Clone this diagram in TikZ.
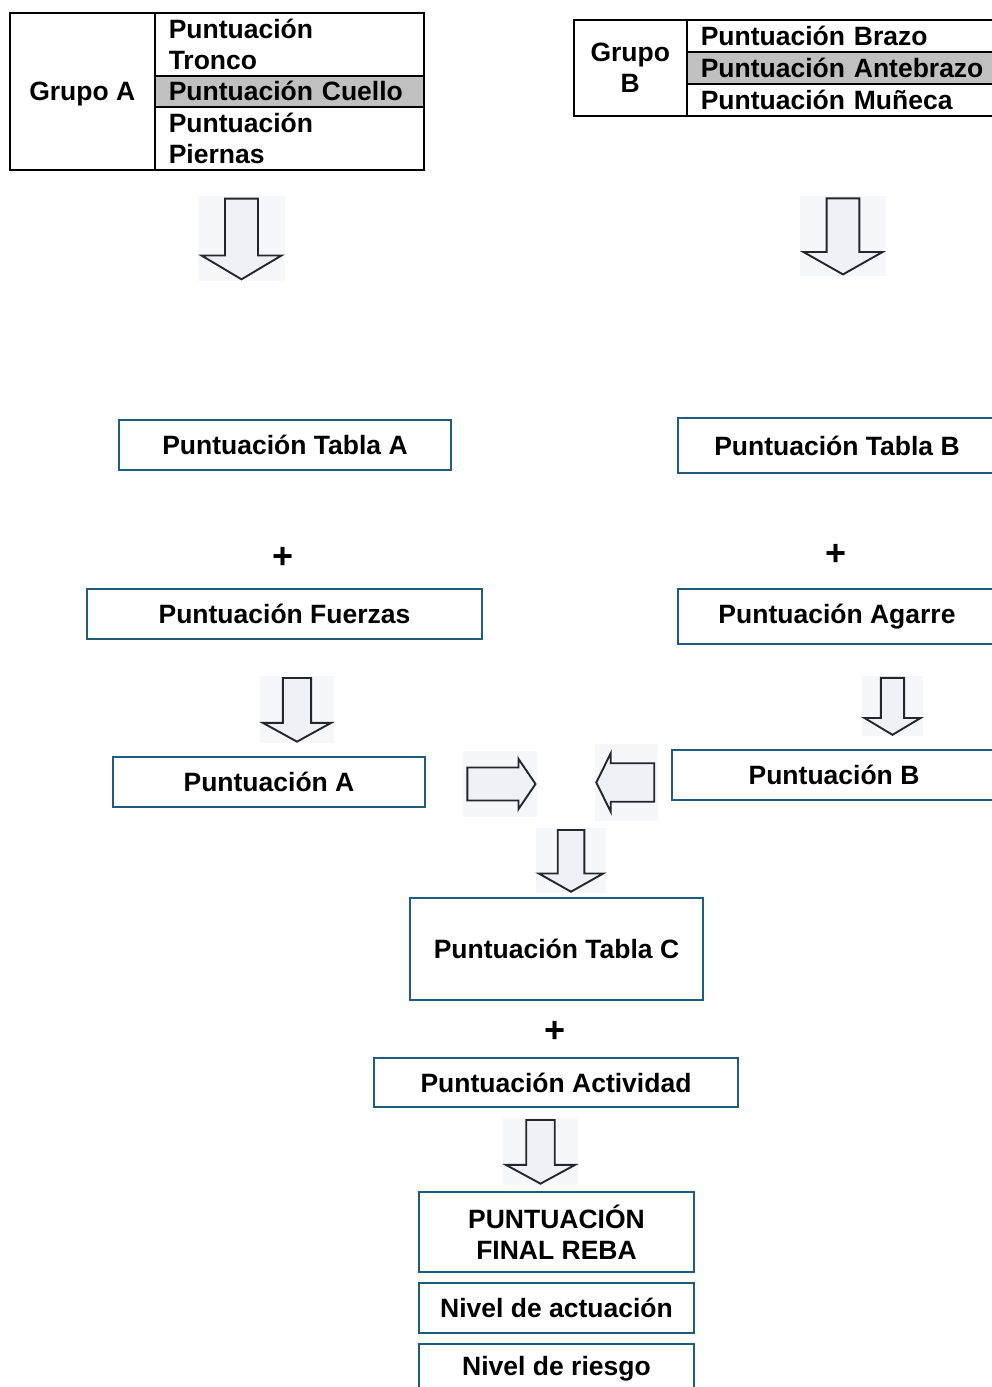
\documentclass[tikz,border=0pt]{standalone}
\usepackage{fontspec}
\setmainfont{Liberation Sans}
\begin{document}
\definecolor{boxblue}{RGB}{31,92,126}
\definecolor{cellgrey}{RGB}{192,192,192}
\definecolor{arrowbg}{RGB}{246,247,250}
\definecolor{arrowfill}{RGB}{238,242,247}
\definecolor{arrowline}{RGB}{35,38,42}
\begin{tikzpicture}[x=1pt,y=-1pt,
  lbl/.style={font=\fontsize{26.5pt}{31pt}\selectfont\bfseries},
  cell/.style={lbl, draw=black, line width=1.5pt, anchor=north west, inner sep=0pt},
  leftcell/.style={cell, align=left, text width=#1},
  box/.style={lbl, draw=boxblue, line width=2pt, inner sep=0pt, align=center},
  plus/.style={font=\fontsize{36pt}{40pt}\selectfont\bfseries, inner sep=0pt},
  glyphline/.style={draw=arrowline, line width=1.9pt, fill=arrowfill, line join=miter},
  pics/downarr/.style={code={
    \fill[arrowbg] (-0.5,0) rectangle (0.5,1);
    \draw[glyphline] (-0.19,0.03) -- (0.19,0.03) -- (0.19,0.70) -- (0.46,0.70)
      -- (0,0.98) -- (-0.46,0.70) -- (-0.19,0.70) -- cycle;
  }},
  pics/rightarr/.style={code={
    \fill[arrowbg] (0,-0.5) rectangle (1,0.5);
    \draw[glyphline] (0.06,-0.25) -- (0.75,-0.25) -- (0.75,-0.38) -- (0.98,0)
      -- (0.75,0.38) -- (0.75,0.25) -- (0.06,0.25) -- cycle;
  }}]
\useasboundingbox (0,0) rectangle (992,1387);
\clip (0,0) rectangle (992,1387);

% Grupo A table
\node[cell, minimum width=145pt, minimum height=157pt, text depth=0pt] (grpA) at (9,12) {Grupo A};
\node[leftcell=241pt, minimum width=269pt, minimum height=63pt] (tronco) at (154,12) {Puntuación\\Tronco};
\node[leftcell=241pt, minimum width=269pt, minimum height=31pt, fill=cellgrey] (cuello) at (154,75) {Puntuación Cuello};
\node[leftcell=241pt, minimum width=269pt, minimum height=63pt] (piernas) at (154,106) {Puntuación\\Piernas};

% Grupo B table
\node[cell, minimum width=113pt, minimum height=96pt, align=center] (grpB) at (573,19) {Grupo\\B};
\node[leftcell=288pt, minimum width=316pt, minimum height=32pt] (brazo) at (686,19) {Puntuación Brazo};
\node[leftcell=288pt, minimum width=316pt, minimum height=32pt, fill=cellgrey] (antebrazo) at (686,51) {Puntuación Antebrazo};
\node[leftcell=288pt, minimum width=316pt, minimum height=32pt] (muneca) at (686,83) {Puntuación Muñeca};

% block arrows under the tables
\pic[xscale=87,yscale=85] at (241.5,196) {downarr};
\pic[xscale=86,yscale=80] at (843,196) {downarr};

% score boxes
\node[box, minimum width=332pt, minimum height=50pt] (tablaA) at (285,445) {Puntuación Tabla A};
\node[box, minimum width=318pt, minimum height=55pt] (tablaB) at (837,445.5) {Puntuación Tabla B};
\node[plus] (plusA) at (283,558) {+};
\node[plus] (plusB) at (836,555) {+};
\node[box, minimum width=395pt, minimum height=50pt] (fuerzas) at (284.5,614) {Puntuación Fuerzas};
\node[box, minimum width=318pt, minimum height=55pt] (agarre) at (837,616.5) {Puntuación Agarre};

\pic[xscale=74,yscale=67] at (297,676) {downarr};
\pic[xscale=61,yscale=60] at (892.5,676) {downarr};

\node[box, minimum width=312pt, minimum height=50pt] (puntA) at (269,782) {Puntuación A};
\node[box, minimum width=324pt, minimum height=50pt] (puntB) at (834,775) {Puntuación B};

\pic[xscale=74,yscale=66] at (463,784) {rightarr};
\pic[xscale=-63,yscale=77] at (658,782.5) {rightarr};
\pic[xscale=70,yscale=65] at (571,828) {downarr};

\node[box, minimum width=293pt, minimum height=102pt] (tablaC) at (556.5,949) {Puntuación Tabla C};
\node[plus] (plusC) at (555,1032) {+};
\node[box, minimum width=364pt, minimum height=49pt] (actividad) at (556,1082.5) {Puntuación Actividad};

\pic[xscale=75,yscale=67] at (540.5,1118) {downarr};

\node[box, minimum width=275pt, minimum height=80pt] (final) at (556.5,1232) {PUNTUACIÓN\\FINAL REBA};
\node[box, minimum width=275pt, minimum height=50pt] (actuacion) at (556.5,1308) {Nivel de actuación};
\node[box, minimum width=275pt, minimum height=50pt] (riesgo) at (556.5,1369) {Nivel de riesgo};
\end{tikzpicture}
\end{document}
